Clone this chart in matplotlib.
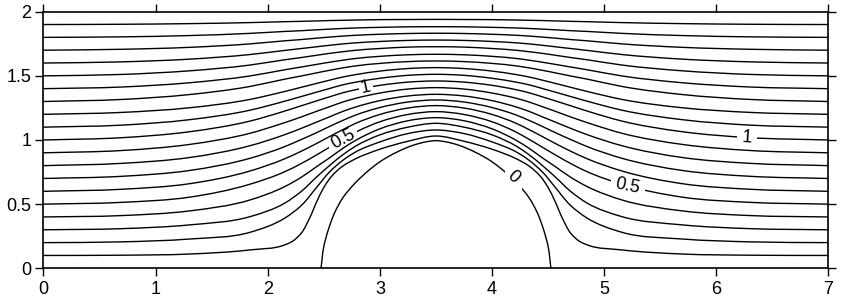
import numpy as np
import matplotlib
matplotlib.use("Agg")
import matplotlib.pyplot as plt
from matplotlib.path import Path
from matplotlib.patches import PathPatch, Rectangle

plt.rcParams['font.family'] = ['Liberation Sans', 'DejaVu Sans']

# streamline heights, one row per level, at these x stations
x_stations = [0.0, 0.7, 1.3, 1.84, 2.15, 2.3, 2.44, 2.55, 2.67, 2.78, 3.0, 3.25, 3.5,
              3.75, 4.0, 4.22, 4.33, 4.45, 4.56, 4.7, 4.85, 5.16, 5.7, 6.3, 7.0]
levels = [0.2, 0.3, 0.4, 0.5, 0.6, 0.7, 0.8, 0.9, 1.0, 1.1, 1.2, 1.3, 1.4, 1.5, 1.6, 1.7, 1.8, 1.9]
stream_y = [
    [0.200, 0.206, 0.228, 0.280, 0.390, 0.490, 0.635, 0.750, 0.842, 0.905, 0.985, 1.050, 1.078, 1.050, 0.985, 0.905, 0.842, 0.750, 0.635, 0.490, 0.390, 0.280, 0.228, 0.206, 0.200],
    [0.300, 0.309, 0.338, 0.402, 0.507, 0.600, 0.715, 0.800, 0.885, 0.950, 1.040, 1.100, 1.130, 1.100, 1.040, 0.950, 0.885, 0.800, 0.715, 0.600, 0.507, 0.402, 0.338, 0.309, 0.300],
    [0.400, 0.411, 0.447, 0.532, 0.636, 0.710, 0.795, 0.860, 0.935, 0.995, 1.087, 1.150, 1.174, 1.150, 1.087, 0.995, 0.935, 0.860, 0.795, 0.710, 0.636, 0.532, 0.447, 0.411, 0.400],
    [0.500, 0.514, 0.554, 0.655, 0.752, 0.817, 0.886, 0.943, 1.005, 1.059, 1.142, 1.199, 1.221, 1.199, 1.142, 1.059, 1.005, 0.943, 0.886, 0.817, 0.752, 0.655, 0.554, 0.514, 0.500],
    [0.600, 0.616, 0.659, 0.758, 0.853, 0.913, 0.975, 1.026, 1.081, 1.128, 1.199, 1.249, 1.268, 1.249, 1.199, 1.128, 1.081, 1.026, 0.975, 0.913, 0.853, 0.758, 0.659, 0.616, 0.600],
    [0.700, 0.717, 0.762, 0.857, 0.948, 1.004, 1.059, 1.105, 1.153, 1.193, 1.253, 1.296, 1.312, 1.296, 1.253, 1.193, 1.153, 1.105, 1.059, 1.004, 0.948, 0.857, 0.762, 0.717, 0.700],
    [0.800, 0.818, 0.863, 0.955, 1.041, 1.091, 1.141, 1.180, 1.223, 1.256, 1.307, 1.343, 1.356, 1.343, 1.307, 1.256, 1.223, 1.180, 1.141, 1.091, 1.041, 0.955, 0.863, 0.818, 0.800],
    [0.900, 0.918, 0.965, 1.052, 1.135, 1.180, 1.225, 1.259, 1.296, 1.324, 1.366, 1.397, 1.408, 1.397, 1.366, 1.324, 1.296, 1.259, 1.225, 1.180, 1.135, 1.052, 0.965, 0.918, 0.900],
    [1.000, 1.018, 1.064, 1.147, 1.225, 1.267, 1.306, 1.336, 1.368, 1.391, 1.426, 1.451, 1.460, 1.451, 1.426, 1.391, 1.368, 1.336, 1.306, 1.267, 1.225, 1.147, 1.064, 1.018, 1.000],
    [1.100, 1.116, 1.158, 1.232, 1.302, 1.339, 1.374, 1.401, 1.430, 1.450, 1.481, 1.504, 1.512, 1.504, 1.481, 1.450, 1.430, 1.401, 1.374, 1.339, 1.302, 1.232, 1.158, 1.116, 1.100],
    [1.200, 1.215, 1.251, 1.316, 1.378, 1.411, 1.442, 1.466, 1.491, 1.509, 1.537, 1.557, 1.564, 1.557, 1.537, 1.509, 1.491, 1.466, 1.442, 1.411, 1.378, 1.316, 1.251, 1.215, 1.200],
    [1.300, 1.316, 1.354, 1.417, 1.474, 1.499, 1.524, 1.543, 1.562, 1.577, 1.597, 1.611, 1.616, 1.611, 1.597, 1.577, 1.562, 1.543, 1.524, 1.499, 1.474, 1.417, 1.354, 1.316, 1.300],
    [1.400, 1.413, 1.446, 1.499, 1.547, 1.569, 1.590, 1.606, 1.622, 1.635, 1.652, 1.664, 1.668, 1.664, 1.652, 1.635, 1.622, 1.606, 1.590, 1.569, 1.547, 1.499, 1.446, 1.413, 1.400],
    [1.500, 1.511, 1.539, 1.584, 1.625, 1.643, 1.661, 1.675, 1.688, 1.699, 1.713, 1.724, 1.727, 1.724, 1.713, 1.699, 1.688, 1.675, 1.661, 1.643, 1.625, 1.584, 1.539, 1.511, 1.500],
    [1.600, 1.609, 1.630, 1.666, 1.698, 1.713, 1.727, 1.738, 1.749, 1.757, 1.768, 1.776, 1.779, 1.776, 1.768, 1.757, 1.749, 1.738, 1.727, 1.713, 1.698, 1.666, 1.630, 1.609, 1.600],
    [1.700, 1.707, 1.722, 1.749, 1.773, 1.783, 1.794, 1.802, 1.810, 1.816, 1.824, 1.830, 1.832, 1.830, 1.824, 1.816, 1.810, 1.802, 1.794, 1.783, 1.773, 1.749, 1.722, 1.707, 1.700],
    [1.800, 1.804, 1.814, 1.831, 1.846, 1.852, 1.859, 1.864, 1.869, 1.873, 1.878, 1.882, 1.883, 1.882, 1.878, 1.873, 1.869, 1.864, 1.859, 1.852, 1.846, 1.831, 1.814, 1.804, 1.800],
    [1.900, 1.902, 1.907, 1.915, 1.922, 1.925, 1.928, 1.931, 1.933, 1.935, 1.938, 1.939, 1.940, 1.939, 1.938, 1.935, 1.933, 1.931, 1.928, 1.925, 1.922, 1.915, 1.907, 1.902, 1.900],
]

# the 0.1 line bends sharply in front of the bump, so it gets its own stations
x_psi01 = [0.0, 0.7, 1.3, 1.84, 2.15, 2.22, 2.3, 2.37, 2.44, 2.5, 2.57, 2.67, 2.78, 3.0, 3.25, 3.5,
           3.75, 4.0, 4.22, 4.33, 4.43, 4.5, 4.56, 4.63, 4.7, 4.78, 4.85, 5.16, 5.7, 6.3, 7.0]
y_psi01 = [0.100, 0.102, 0.111, 0.143, 0.182, 0.210, 0.275, 0.385, 0.525, 0.630, 0.718, 0.797, 0.852, 0.928, 0.990, 1.031,
           0.990, 0.928, 0.852, 0.797, 0.718, 0.630, 0.525, 0.385, 0.275, 0.210, 0.182, 0.143, 0.111, 0.102, 0.100]

# bump outline (level 0)
x_bump = [2.475, 2.50, 2.54, 2.60, 2.67, 2.78, 2.91, 3.0, 3.15, 3.3, 3.42, 3.5,
          3.58, 3.7, 3.85, 4.0, 4.09, 4.22, 4.33, 4.4, 4.46, 4.5, 4.525]
y_bump = [0.0, 0.17, 0.30, 0.44, 0.55, 0.665, 0.77, 0.83, 0.905, 0.96, 0.987, 0.995,
          0.987, 0.96, 0.905, 0.83, 0.77, 0.665, 0.55, 0.44, 0.30, 0.17, 0.0]


def smooth_path(xs, ys):
    # cubic bezier through the read points, tangents from the 3-point parabola
    P = np.column_stack([xs, ys]).astype(float)
    seg = np.hypot(*np.diff(P, axis=0).T)
    d = np.diff(P, axis=0) / seg[:, None]
    M = np.zeros_like(P)
    M[0] = d[0]
    M[-1] = d[-1]
    for i in range(1, len(P) - 1):
        M[i] = (seg[i] * d[i - 1] + seg[i - 1] * d[i]) / (seg[i - 1] + seg[i])
    verts = [P[0]]
    codes = [Path.MOVETO]
    for i in range(len(P) - 1):
        h = seg[i]
        verts += [P[i] + M[i] * h / 3, P[i + 1] - M[i + 1] * h / 3, P[i + 1]]
        codes += [Path.CURVE4] * 3
    return Path(verts, codes)


fig = plt.figure(figsize=(8.5, 3.07), dpi=100)
ax = fig.add_axes([0.0511, 0.1261, 0.9236, 0.8358])
ax.set_xlim(0, 7)
ax.set_ylim(0, 2)


def draw_line(xs, ys, gaps=()):
    path = smooth_path(xs, ys)
    # split into pieces between the label gaps
    edges = [-1.0]
    for g0, g1 in gaps:
        edges += [g0, g1]
    edges.append(8.0)
    for k in range(0, len(edges), 2):
        p = PathPatch(path, fill=False, ec='black', lw=1.0, capstyle='butt')
        ax.add_patch(p)
        clip = Rectangle((edges[k], -1), edges[k + 1] - edges[k], 4, transform=ax.transData)
        p.set_clip_path(clip)


# labels: (text, x, y, angle, gap)
labels_10 = [('1', 2.87, 1.405, 12, (2.81, 2.94)),
             ('1', 6.27, 1.020, -4, (6.18, 6.36))]
labels_05 = [('0.5', 2.67, 1.005, 28, (2.55, 2.80)),
             ('0.5', 5.21, 0.640, -12, (5.06, 5.36))]
labels_00 = [('0', 4.19, 0.710, -42, (4.12, 4.27))]

draw_line(x_bump, y_bump, [l[4] for l in labels_00])
draw_line(x_psi01, y_psi01)
for lev, ys in zip(levels, stream_y):
    gaps = []
    if abs(lev - 1.0) < 1e-9:
        gaps = [l[4] for l in labels_10]
    elif abs(lev - 0.5) < 1e-9:
        gaps = [l[4] for l in labels_05]
    draw_line(x_stations, ys, gaps)

for txt, lx, ly, ang, _ in labels_10 + labels_05 + labels_00:
    ax.text(lx, ly, txt, fontsize=13, rotation=ang, rotation_mode='anchor',
            ha='center', va='center', color='black')

ax.set_xticks(range(0, 8))
ax.set_yticks([0, 0.5, 1, 1.5, 2])
ax.set_yticklabels(['0', '0.5', '1', '1.5', '2'])
ax.tick_params(direction='out', length=5.8, width=1.0, top=True, right=True,
               labelsize=13, pad=3, colors='black')
for s in ax.spines.values():
    s.set_linewidth(1.2)

fig.savefig('out.png', dpi=100)
